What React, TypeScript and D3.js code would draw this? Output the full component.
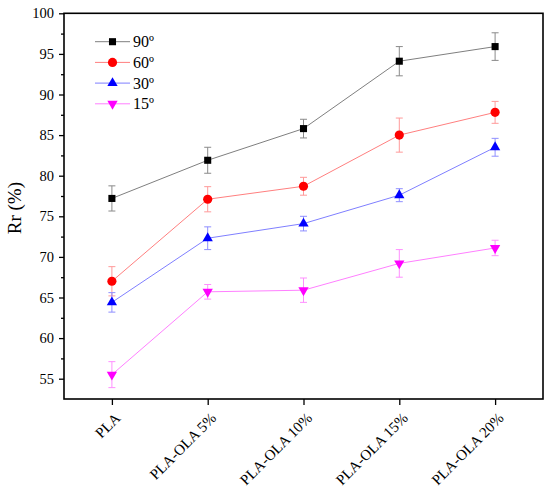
import React, { useRef, useEffect } from "react";
import * as d3 from "d3";

const categories = ["PLA", "PLA-OLA 5%", "PLA-OLA 10%", "PLA-OLA 15%", "PLA-OLA 20%"];
const seriesNames = ["90º", "60º", "30º", "15º"];

const rr90 = [77.2, 81.9, 85.8, 94.1, 95.9];
const err90 = [1.55, 1.6, 1.15, 1.8, 1.7];
const rr60 = [67.0, 77.1, 78.7, 85.0, 87.8];
const err60 = [1.8, 1.55, 1.1, 2.1, 1.35];
const rr30 = [64.4, 72.3, 74.1, 77.6, 83.5];
const err30 = [1.2, 1.4, 0.9, 0.8, 1.1];
const rr15 = [55.5, 65.7, 65.9, 69.2, 71.1];
const err15 = [1.6, 0.9, 1.5, 1.7, 0.95];

const yTicks = [55, 60, 65, 70, 75, 80, 85, 90, 95, 100];
const yMinorTicks = [57.5, 62.5, 67.5, 72.5, 77.5, 82.5, 87.5, 92.5, 97.5];

const FONT = "'Liberation Serif', 'DejaVu Serif', serif";

const App: React.FC = () => {
  const ref = useRef<SVGSVGElement | null>(null);

  useEffect(() => {
    document.body.style.margin = "0";
    const width = 550;
    const height = 493;
    const left = 64;
    const right = 543;
    const top = 13.3;
    const bottom = 399;

    const svg = d3.select(ref.current);
    svg.selectAll("*").remove();
    svg.attr("width", width).attr("height", height);

    const x = d3.scalePoint<string>().domain(categories).range([left, right]).padding(0.5);
    const y = d3.scaleLinear().domain([52.5, 100]).range([bottom, top]);

    const series = [
      { name: seriesNames[0], values: rr90, errs: err90, line: "#7f7f7f", err: "#8a8a8a", fill: "#000000", shape: d3.symbolSquare, size: 50, rot: 0 },
      { name: seriesNames[1], values: rr60, errs: err60, line: "#ff7f7f", err: "#ff9a9a", fill: "#ff0000", shape: d3.symbolCircle, size: 66, rot: 0 },
      { name: seriesNames[2], values: rr30, errs: err30, line: "#7f7fff", err: "#8f8fff", fill: "#0000ff", shape: d3.symbolTriangle, size: 46, rot: 0 },
      { name: seriesNames[3], values: rr15, errs: err15, line: "#ff7fff", err: "#ff8fff", fill: "#ff00ff", shape: d3.symbolTriangle, size: 46, rot: 180 },
    ];

    // Series lines
    series.forEach((s) => {
      const line = d3
        .line<number>()
        .x((_, i) => x(categories[i]) as number)
        .y((d) => y(d));
      svg
        .append("path")
        .datum(s.values)
        .attr("fill", "none")
        .attr("stroke", s.line)
        .attr("stroke-width", 1)
        .attr("d", line);
    });

    // Error bars
    series.forEach((s) => {
      const g = svg.append("g").attr("stroke", s.err).attr("stroke-width", 1);
      s.values.forEach((v, i) => {
        const cx = x(categories[i]) as number;
        const y1 = y(v + s.errs[i]);
        const y2 = y(v - s.errs[i]);
        g.append("line").attr("x1", cx).attr("x2", cx).attr("y1", y1).attr("y2", y2);
        g.append("line").attr("x1", cx - 3.5).attr("x2", cx + 3.5).attr("y1", y1).attr("y2", y1);
        g.append("line").attr("x1", cx - 3.5).attr("x2", cx + 3.5).attr("y1", y2).attr("y2", y2);
      });
    });

    // Markers
    series.forEach((s) => {
      const sym = d3.symbol().type(s.shape).size(s.size);
      svg
        .append("g")
        .selectAll("path")
        .data(s.values)
        .enter()
        .append("path")
        .attr("d", sym)
        .attr("fill", s.fill)
        .attr("transform", (d, i) => `translate(${x(categories[i])},${y(d)}) rotate(${s.rot})`);
    });

    // Frame
    svg
      .append("rect")
      .attr("x", left)
      .attr("y", top)
      .attr("width", right - left)
      .attr("height", bottom - top)
      .attr("fill", "none")
      .attr("stroke", "#000")
      .attr("stroke-width", 1.6);

    // Y axis
    const yAxis = svg
      .append("g")
      .attr("transform", `translate(${left},0)`)
      .call(d3.axisLeft(y).tickValues(yTicks).tickSize(5).tickPadding(5) as any);
    yAxis.select(".domain").remove();
    yAxis.selectAll("line").attr("stroke-width", 1.3);
    yAxis
      .selectAll("text")
      .style("font-family", FONT)
      .style("font-size", "14.5px")
      .attr("fill", "#000");
    svg
      .append("g")
      .attr("transform", `translate(${left},0)`)
      .call(d3.axisLeft(y).tickValues(yMinorTicks).tickSize(3).tickFormat(() => "") as any)
      .call((g) => g.select(".domain").remove())
      .selectAll("line")
      .attr("stroke-width", 1.3);

    // X axis
    const xAxis = svg
      .append("g")
      .attr("transform", `translate(0,${bottom})`)
      .call(d3.axisBottom(x).tickSize(6) as any);
    xAxis.select(".domain").remove();
    xAxis.selectAll("line").attr("stroke-width", 1.3);
    xAxis
      .selectAll("text")
      .style("font-family", FONT)
      .style("font-size", "15px")
      .attr("fill", "#000")
      .attr("text-anchor", "end")
      .attr("dy", "0")
      .attr("y", 0)
      .attr("transform", "translate(9,20) rotate(-45)");

    // Y label
    svg
      .append("text")
      .attr("transform", `translate(21,${(top + bottom) / 2 + 2}) rotate(-90)`)
      .attr("text-anchor", "middle")
      .style("font-family", FONT)
      .style("font-size", "19px")
      .attr("fill", "#000")
      .text("Rr (%)");

    // Legend
    series.forEach((s, i) => {
      const ly = 41.7 + i * 20.7;
      const g = svg.append("g").attr("transform", `translate(95,${ly})`);
      g.append("line").attr("x1", 0).attr("x2", 35).attr("stroke", s.line).attr("stroke-width", 1);
      g.append("path")
        .attr("d", d3.symbol().type(s.shape).size(s.size)())
        .attr("fill", s.fill)
        .attr("transform", `translate(17.5,0) rotate(${s.rot})`);
      g.append("text")
        .attr("x", 38)
        .attr("y", 5.5)
        .style("font-family", FONT)
        .style("font-size", "16px")
        .attr("fill", "#000")
        .text(s.name);
    });
  }, []);

  return <svg ref={ref} style={{ display: "block" }} />;
};

export default App;
